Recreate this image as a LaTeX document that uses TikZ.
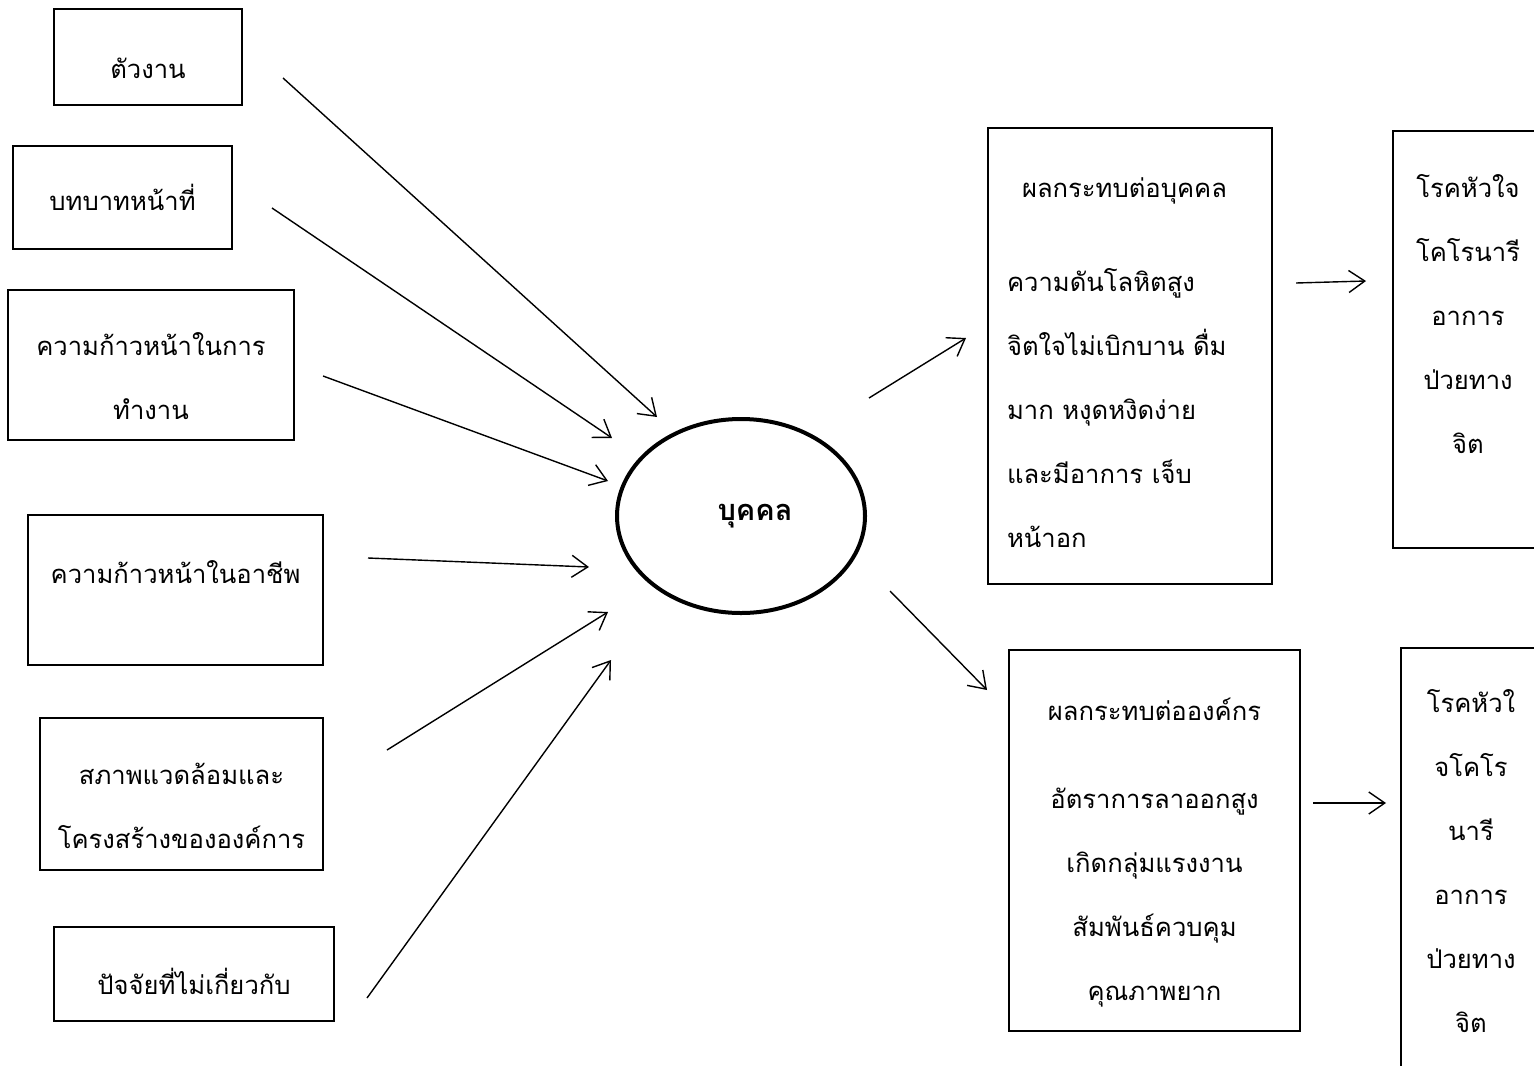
\documentclass[tikz,border=0pt]{standalone}
\usepackage{fontspec}
\newfontfamily\thaifont[Script=Thai]{Loma}
\usetikzlibrary{shapes.geometric,arrows.meta}

\begin{document}
\begin{tikzpicture}[x=0.5pt,y=-0.5pt]
\tikzstyle{box} = [rectangle, draw=black, line width=0.6pt, inner sep=0pt, align=center, font=\thaifont\fontsize{12.8}{32}\selectfont]
\tikzstyle{person} = [ellipse, draw=black, line width=2pt, minimum width=124pt, minimum height=97pt, font=\thaifont\bfseries\fontsize{14.5}{32}\selectfont]
\tikzstyle{arrow} = [line width=0.7pt, -{Straight Barb[length=8pt,width=11pt]}]

\useasboundingbox (0,0) rectangle (1534,1065);
\clip (0,0) rectangle (1534,1065);

% Factors
\node (work) [box, text height=22pt, minimum width=94pt, minimum height=48pt] at (148,57) {ตัวงาน};
\node (role) [box, minimum width=109.5pt, minimum height=51.5pt] at (122.5,197.5) {บทบาทหน้าที่};
\node (progress) [box, text height=55pt, minimum width=143pt, minimum height=75pt] at (151,365) {ความก้าวหน้าในการ\\ทำงาน};
\node (career) [box, text depth=18pt, minimum width=147.5pt, minimum height=75pt] at (175.5,590) {ความก้าวหน้าในอาชีพ};
\node (environ) [box, text height=55pt, minimum width=141.5pt, minimum height=76pt] at (181.5,794) {สภาพแวดล้อมและ\\โครงสร้างขององค์การ};
\node (outside) [box, text height=21pt, minimum width=140pt, minimum height=47pt] at (194,974) {ปัจจัยที่ไม่เกี่ยวกับ};

\node (person) [person] at (741,516) {\hspace*{14pt}บุคคล};

% Effects
\node (indiv) [box, text height=17pt, minimum width=142pt, minimum height=228pt, text width=123pt, align=left] at (1130,356) {\hspace*{7.5pt}ผลกระทบต่อบุคคล\\[15pt]ความดันโลหิตสูง\\จิตใจไม่เบิกบาน ดื่ม\\มาก หงุดหงิดง่าย\\และมีอาการ เจ็บ\\หน้าอก};
\node (heart) [box, text depth=26pt, minimum width=75pt, minimum height=208.5pt] at (1468,339.5) {โรคหัวใจ\\โคโรนารี\\อาการ\\ป่วยทาง\\จิต};
\node (org) [box, text height=163pt, minimum width=145.5pt, minimum height=190.5pt] at (1154.5,840.5) {ผลกระทบต่อองค์กร\\[12pt]อัตราการลาออกสูง\\เกิดกลุ่มแรงงาน\\สัมพันธ์ควบคุม\\คุณภาพยาก};
\node (heart2) [box, minimum width=70pt, minimum height=213.5pt] at (1471,861.5) {โรคหัวใ\\จโคโร\\นารี\\อาการ\\ป่วยทาง\\จิต};

% Arrow ends
\coordinate (s1) at (283,78);   \coordinate (e1) at (657,417);
\coordinate (s2) at (272,208);  \coordinate (e2) at (612,438);
\coordinate (s3) at (323,376);  \coordinate (e3) at (608,481);
\coordinate (s4) at (368,558);  \coordinate (e4) at (589,567);
\coordinate (s5) at (387,750);  \coordinate (e5) at (608,612);
\coordinate (s6) at (367,998);  \coordinate (e6) at (611,660);
\coordinate (s7) at (869,398);  \coordinate (e7) at (966,338);
\coordinate (s8) at (890,591);  \coordinate (e8) at (987,690);
\coordinate (s9) at (1296,283); \coordinate (e9) at (1366,281);
\coordinate (s10) at (1313,803); \coordinate (e10) at (1386,803);

% Arrows
\draw [arrow] (s1) -- (e1);
\draw [arrow] (s2) -- (e2);
\draw [arrow] (s3) -- (e3);
\draw [arrow] (s4) -- (e4);
\draw [arrow] (s5) -- (e5);
\draw [arrow] (s6) -- (e6);
\draw [arrow] (s7) -- (e7);
\draw [arrow] (s8) -- (e8);
\draw [arrow] (s9) -- (e9);
\draw [arrow] (s10) -- (e10);

\end{tikzpicture}
\end{document}
